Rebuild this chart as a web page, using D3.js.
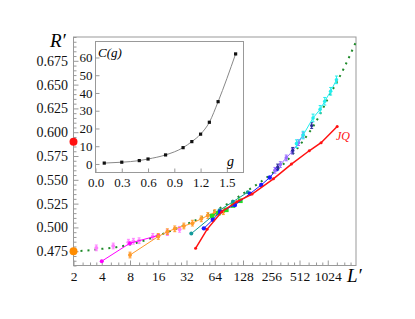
<!DOCTYPE html>
<html><head><meta charset="utf-8">
<script src="https://cdn.jsdelivr.net/npm/d3@7"></script>
<style>body{margin:0;background:#fff}svg{display:block}svg text{font-family:'Liberation Serif','Times New Roman',serif !important}</style>
</head><body>
<script>
// ---------- main chart data (L', R') ----------
const xTicks = [2,4,8,16,32,64,128,256,512,1024];
const yTicks = [0.475,0.5,0.525,0.55,0.575,0.6,0.625,0.65,0.675];
const yTickLabels = ["0.475","0.500","0.525","0.550","0.575","0.600","0.625","0.650","0.675"];

const fitL = [2,3,4,6,8,12,16,24,32,48,64,96,128,192,256,384,512,768,1024,1536,2048];
const fitR = [0.475,0.476,0.4775,0.4795,0.482,0.487,0.4915,0.498,0.5035,0.511,0.5175,0.527,0.5355,0.547,0.556,0.571,0.586,0.611,0.635,0.668,0.695];

const pinkL = [3.5,5.3,7.7,8.7,10,14,20,27];
const pinkR = [0.4785,0.4805,0.4845,0.4855,0.486,0.4905,0.4945,0.498];
const magentaL = [4,8,16];
const magentaR = [0.4645,0.4835,0.4915];
const orangeL = [8,16,20,24,30,37,46,54,64,79];
const orangeR = [0.471,0.4905,0.4955,0.4985,0.5015,0.5045,0.509,0.5125,0.5155,0.5165];
const tealL = [36,72,100,144];
const tealR = [0.4935,0.518,0.527,0.537];
const blueL = [49,61,73,105,152,200,247,292];
const blueR = [0.499,0.508,0.5165,0.5235,0.5355,0.5445,0.5525,0.561];
const greenL = [60,70,85,100,120];
const greenR = [0.512,0.515,0.5185,0.523,0.528];
const redL = [40,53,76,110,160,270,420,650,870,1290];
const redR = [0.478,0.498,0.5165,0.527,0.535,0.551,0.5665,0.5805,0.589,0.606];
const purpleL = [280,320,370,430,500,560];
const purpleR = [0.56,0.566,0.573,0.580,0.589,0.597];
const navyL = [300,434,690];
const navyR = [0.5635,0.581,0.607];
const cyanL = [475,560,714,850,952,1100,1268];
const cyanR = [0.588,0.597,0.615,0.624,0.6325,0.643,0.655];
const extrapL = [2,2];
const extrapR = [0.590,0.475];

// ---------- inset data ----------
const gVals = [0.1,0.3,0.5,0.6,0.8,1.0,1.1,1.2,1.3,1.4,1.6];
const cVals = [0.5,1.0,1.9,2.8,5.1,9.2,12.6,16.8,23.5,35.1,62];
const insetXTicks = [0,0.3,0.6,0.9,1.2,1.5];
const insetYTicks = [0,10,20,30,40,50,60];

const FONT = "'Liberation Serif','Times New Roman',serif";
const W = 415, H = 319;
const svg = d3.select("body").append("svg").attr("width",W).attr("height",H).attr("font-family",FONT);
const frameCol = "#999";

const x = d3.scaleLog().base(2).domain([2,2048]).range([73.5,356]);
const y = d3.scaleLinear().domain([0.46,0.70]).range([265.5,37]);

// frame
svg.append("rect").attr("x",73.5).attr("y",37).attr("width",356-73.5).attr("height",265.5-37)
  .attr("fill","none").attr("stroke",frameCol).attr("stroke-width",1);

// minor ticks
const xMinor = [];
xTicks.forEach(v=>[1.25,1.5,1.75].forEach(f=>xMinor.push(v*f)));
const yMinor = d3.range(0.46,0.7001,0.005).filter(v=>!yTicks.some(t=>Math.abs(t-v)<1e-6));

const gxMinor = svg.append("g").attr("transform","translate(0,265.5)")
  .call(d3.axisBottom(x).tickValues(xMinor).tickSize(-3).tickFormat(""));
const gyMinor = svg.append("g").attr("transform","translate(73.5,0)")
  .call(d3.axisLeft(y).tickValues(yMinor).tickSize(-3).tickFormat(""));
const gx = svg.append("g").attr("transform","translate(0,265.5)")
  .call(d3.axisBottom(x).tickValues(xTicks).tickSize(-5).tickPadding(5.5).tickFormat(d=>String(d)));
const gy = svg.append("g").attr("transform","translate(73.5,0)")
  .call(d3.axisLeft(y).tickValues(yTicks).tickSize(-5).tickPadding(5.5).tickFormat((d,i)=>yTickLabels[i]));
[gxMinor,gyMinor,gx,gy].forEach(g=>{
  g.attr("font-family",FONT);
  g.select(".domain").remove();
  g.selectAll("line").attr("stroke",frameCol);
  g.selectAll("text").attr("fill","#111").attr("font-size",14);
});
gx.selectAll("text").attr("font-size",13.5);

svg.append("text").attr("x",50).attr("y",47).attr("font-size",19).attr("font-style","italic").text("R′");
svg.append("text").attr("x",347).attr("y",282).attr("font-size",19).attr("font-style","italic").text("L′");

// fit curve (dotted)
const toPts = (L,R)=>L.map((l,i)=>[l,R[i]]);
const line = d3.line().x(d=>x(d[0])).y(d=>y(d[1]));
const smooth = d3.line().x(d=>x(d[0])).y(d=>y(d[1])).curve(d3.curveMonotoneX);
svg.append("path").attr("d",smooth(toPts(fitL,fitR))).attr("fill","none")
  .attr("stroke","#1f8a2a").attr("stroke-width",2).attr("stroke-dasharray","2,5");

const series = [
  {L:pinkL,R:pinkR,c:"#ff80ff",line:false,err:0.003,r:2},
  {L:magentaL,R:magentaR,c:"#ff00ff",line:true,err:0,r:2},
  {L:orangeL,R:orangeR,c:"#ff9a2a",line:true,err:0.003,r:2},
  {L:tealL,R:tealR,c:"#129a9a",line:true,err:0,r:2},
  {L:greenL,R:greenR,c:"#22dd22",line:false,err:0,r:2.3,sq:true},
  {L:blueL,R:blueR,c:"#1a1aff",line:true,err:0,r:2.2},
  {L:redL,R:redR,c:"#ff1111",line:true,err:0,r:1.5,w:1.5},
  {L:purpleL,R:purpleR,c:"#9a6cff",line:true,err:0.003,r:1.8},
  {L:navyL,R:navyR,c:"#2a2a9a",line:false,err:0.003,r:1.6},
  {L:cyanL,R:cyanR,c:"#22eeee",line:true,err:0.004,r:1.8}
];
series.forEach(s=>{
  const pts = toPts(s.L,s.R);
  const g = svg.append("g");
  if(s.line) g.append("path").attr("d",line(pts)).attr("fill","none").attr("stroke",s.c).attr("stroke-width",s.w||1);
  if(s.err>0){
    pts.forEach(p=>{
      const xx=x(p[0]);
      g.append("line").attr("x1",xx).attr("x2",xx).attr("y1",y(p[1]-s.err)).attr("y2",y(p[1]+s.err)).attr("stroke",s.c).attr("stroke-width",1);
      [p[1]-s.err,p[1]+s.err].forEach(v=>g.append("line").attr("x1",xx-1.5).attr("x2",xx+1.5).attr("y1",y(v)).attr("y2",y(v)).attr("stroke",s.c));
    });
  }
  if(s.sq){
    g.selectAll("rect").data(pts).join("rect").attr("x",d=>x(d[0])-s.r).attr("y",d=>y(d[1])-s.r)
      .attr("width",2*s.r).attr("height",2*s.r).attr("fill",s.c);
  } else {
    g.selectAll("circle").data(pts).join("circle").attr("cx",d=>x(d[0])).attr("cy",d=>y(d[1])).attr("r",s.r).attr("fill",s.c);
  }
});
svg.append("text").attr("x",336).attr("y",140).attr("fill","#ff1111").attr("font-size",12).attr("font-style","italic").text("JQ");

// extrapolated points on axis
const extrapCols = ["#ff1111","#ff8c00"];
svg.selectAll("circle.ex").data(toPts(extrapL,extrapR)).join("circle").attr("class","ex")
  .attr("cx",d=>x(d[0])).attr("cy",d=>y(d[1])).attr("r",4).attr("fill",(d,i)=>extrapCols[i]);

// ---------- inset ----------
const xi = d3.scaleLinear().domain([0,1.69]).range([95.5,243.5]);
const yi = d3.scaleLinear().domain([-4.8,69]).range([172.5,41.5]);
svg.append("rect").attr("x",95.5).attr("y",41.5).attr("width",148).attr("height",131)
  .attr("fill","#fff").attr("stroke",frameCol);
const gix = svg.append("g").attr("transform","translate(0,172.5)")
  .call(d3.axisBottom(xi).tickValues(insetXTicks).tickSize(-4).tickPadding(5).tickFormat(d3.format(".1f")));
const giy = svg.append("g").attr("transform","translate(95.5,0)")
  .call(d3.axisLeft(yi).tickValues(insetYTicks).tickSize(-4).tickPadding(3).tickFormat(d3.format("d")));
[gix,giy].forEach(g=>{
  g.attr("font-family",FONT);
  g.select(".domain").remove();
  g.selectAll("line").attr("stroke",frameCol);
  g.selectAll("text").attr("fill","#111").attr("font-size",13);
});
const ipts = gVals.map((g,i)=>[g,cVals[i]]);
svg.append("path").attr("d",d3.line().x(d=>xi(d[0])).y(d=>yi(d[1])).curve(d3.curveMonotoneX)(ipts))
  .attr("fill","none").attr("stroke","#888").attr("stroke-width",1);
svg.selectAll("rect.ip").data(ipts).join("rect").attr("class","ip")
  .attr("x",d=>xi(d[0])-1.6).attr("y",d=>yi(d[1])-1.6).attr("width",3.2).attr("height",3.2).attr("fill","#111");
svg.append("text").attr("x",98).attr("y",57).attr("font-size",13).attr("font-style","italic").text("C(g)");
svg.append("text").attr("x",227).attr("y",166).attr("font-size",14).attr("font-style","italic").text("g");
</script>
</body></html>
